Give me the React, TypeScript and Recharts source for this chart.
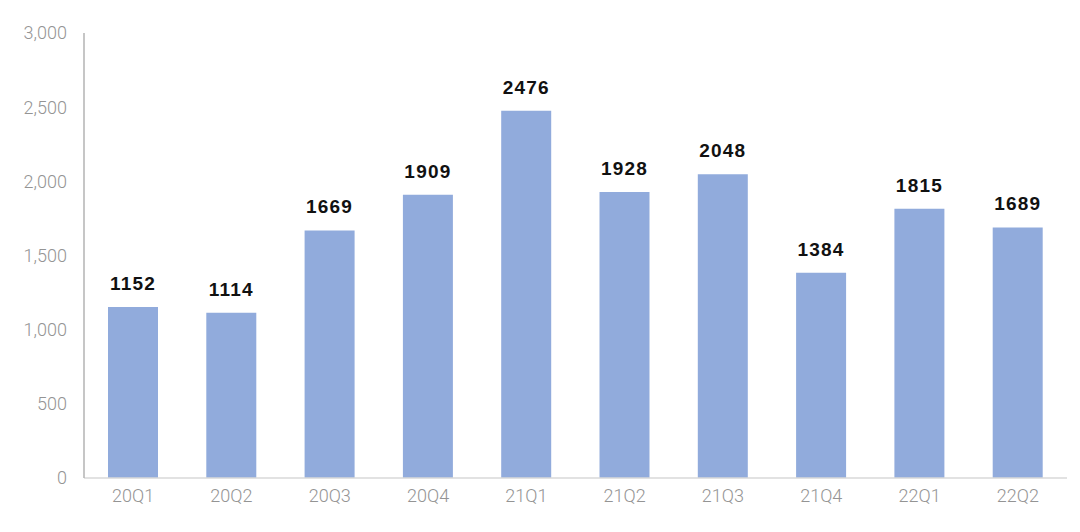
import { BarChart, Bar, XAxis, YAxis, LabelList } from "recharts";

const quarters = ["20Q1", "20Q2", "20Q3", "20Q4", "21Q1", "21Q2", "21Q3", "21Q4", "22Q1", "22Q2"];
const values = [1152, 1114, 1669, 1909, 2476, 1928, 2048, 1384, 1815, 1689];
const yTicks = [0, 500, 1000, 1500, 2000, 2500, 3000];

const data = quarters.map((q, i) => ({ quarter: q, value: values[i] }));

const tickStyle = { fontSize: 18, fill: "#949494", fontFamily: "Roboto, 'Noto Sans', sans-serif", fontWeight: 300 };

export default function App() {
  return (
    <div style={{ position: "absolute", left: 0, top: 0, width: 1080, height: 532, background: "#fff" }}>
      <BarChart
        width={1080}
        height={532}
        data={data}
        margin={{ top: 33, right: 13, left: 0, bottom: 14 }}
      >
        <XAxis
          dataKey="quarter"
          height={40}
          tickLine={false}
          tickSize={0}
          tickMargin={11}
          axisLine={{ stroke: "#d9d9d9", strokeWidth: 1.5 }}
          tick={tickStyle}
        />
        <YAxis
          width={84}
          domain={[0, 3000]}
          ticks={yTicks}
          tickLine={false}
          tickSize={0}
          tickMargin={17}
          axisLine={{ stroke: "#b3b3b3", strokeWidth: 1.5 }}
          tick={tickStyle}
          tickFormatter={(v: number) => v.toLocaleString("en-US")}
        />
        <Bar dataKey="value" fill="#91abdc" barSize={50} isAnimationActive={false}>
          <LabelList
            dataKey="value"
            position="top"
            offset={17}
            style={{ fontSize: 19, fontWeight: 700, fill: "#111", letterSpacing: 1.2, fontFamily: "'Liberation Sans', Arial, sans-serif" }}
          />
        </Bar>
      </BarChart>
    </div>
  );
}
